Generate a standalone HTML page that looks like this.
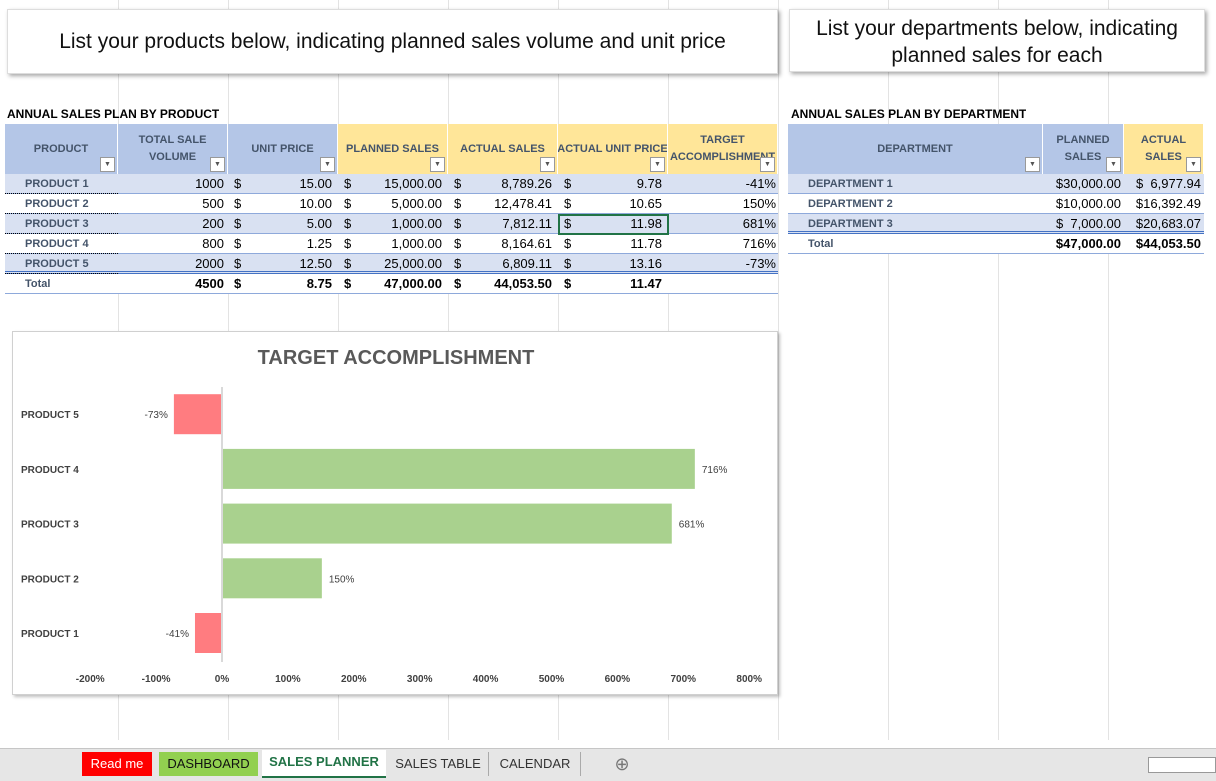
<!DOCTYPE html>
<html><head><meta charset="utf-8"><style>
body{margin:0;width:1216px;height:781px;position:relative;overflow:hidden;background:#fff;font-family:"Liberation Sans",sans-serif;}
.c{position:absolute;box-sizing:border-box;white-space:nowrap;overflow:hidden;}
.gl{position:absolute;top:0;height:740px;width:1px;background:#e3e3e3;}
.hbox{position:absolute;background:#fff;box-shadow:2px 2px 4px rgba(0,0,0,.35);border:1px solid #ddd;text-align:center;font-size:21px;color:#111;}
.tab{position:absolute;top:752px;height:24px;line-height:24px;font-size:13px;text-align:center;}
</style></head><body>
<div id="grid"></div>
<div class="hbox" style="left:7px;top:9px;width:769px;height:63px;line-height:63px;">List your products below, indicating planned sales volume and unit price</div>
<div class="hbox" style="left:789px;top:9px;width:416px;height:63px;line-height:27px;padding-top:5px;box-sizing:border-box;">List your departments below, indicating<br>planned sales for each</div>
<div class="c" style="left:7px;top:107px;font-size:12px;font-weight:bold;">ANNUAL SALES PLAN BY PRODUCT</div>
<div class="c" style="left:791px;top:107px;font-size:12px;font-weight:bold;">ANNUAL SALES PLAN BY DEPARTMENT</div>
<div id="tables"></div>
<div class="c" style="left:12px;top:331px;width:766px;height:364px;border:1px solid #d0d0d0;box-shadow:2px 2px 3px rgba(0,0,0,.25);background:#fff;">
<svg id="chart" width="766" height="364" style="position:absolute;left:0;top:0;font-family:'Liberation Sans',sans-serif;"></svg>
</div>
<div class="c" style="left:0;top:748px;width:1216px;height:33px;background:#e6e6e6;border-top:1px solid #c6c6c6;"></div>
<div class="tab" style="left:82px;width:70px;background:#ff0000;color:#fff;">Read me</div>
<div class="tab" style="left:159px;width:99px;background:#92d050;color:#111;">DASHBOARD</div>
<div class="tab" style="left:262px;width:124px;background:#fff;color:#217346;font-weight:bold;top:750px;height:26px;border-bottom:2px solid #217346;">SALES PLANNER</div>
<div class="tab" style="left:388px;width:100px;color:#333;border-right:1px solid #aaa;">SALES TABLE</div>
<div class="tab" style="left:490px;width:90px;color:#333;border-right:1px solid #aaa;">CALENDAR</div>
<div class="tab" style="left:612px;width:20px;color:#777;font-size:18px;">⊕</div>
<div class="c" style="left:1148px;top:757px;width:68px;height:16px;border:1px solid #999;background:#fff;"></div>
<script>
var gx=[118,228,338,448,558,668,778,888,998,1108];
var g=document.getElementById('grid');
gx.forEach(function(x){var d=document.createElement('div');d.className='gl';d.style.left=x+'px';


g.appendChild(d);});
var T=document.getElementById('tables');
function cell(x,y,w,h,txt,st,name){var d=document.createElement('div');d.className='c';
d.style.cssText='left:'+x+'px;top:'+y+'px;width:'+w+'px;height:'+h+'px;'+st;d.innerHTML=txt;


T.appendChild(d);return d;}
var blue='#b4c6e7',yel='#ffe699',band='#d9e1f2',hc='#44546a';
var dd='<span style="position:absolute;right:2px;bottom:2px;width:13px;height:13px;border:1px solid #999;background:#fff;font-size:7px;line-height:13px;text-align:center;color:#555">▼</span>';
var pcols=[[5,113,'PRODUCT',blue],[118,110,'TOTAL SALE<br>VOLUME',blue],[228,110,'UNIT PRICE',blue],[338,110,'PLANNED SALES',yel],[448,110,'ACTUAL SALES',yel],[558,110,'ACTUAL UNIT PRICE',yel],[668,110,'TARGET<br>ACCOMPLISHMENT',yel]];
pcols.forEach(function(c){cell(c[0],124,c[1]-1,50,'<div style="position:absolute;left:0;right:0;top:0;bottom:0;display:flex;align-items:center;justify-content:center;text-align:center;line-height:17px;">'+c[2]+'</div>'+dd,'background:'+c[3]+';font-size:11px;font-weight:bold;color:'+hc+';','header-'+c[2].toLowerCase().replace(/<br>/,' ').replace(/ /g,'-'));});
var names=['PRODUCT 1','PRODUCT 2','PRODUCT 3','PRODUCT 4','PRODUCT 5'];
var vol=['1000','500','200','800','2000'],up=['15.00','10.00','5.00','1.25','12.50'],ps=['15,000.00','5,000.00','1,000.00','1,000.00','25,000.00'],as=['8,789.26','12,478.41','7,812.11','8,164.61','6,809.11'],aup=['9.78','10.65','11.98','11.78','13.16'],ta=['-41%','150%','681%','716%','-73%'];
function money(x,y,v,bold,name){cell(x,y,110,20,'<span style="position:absolute;left:6px">$</span><span style="position:absolute;right:6px">'+v+'</span>','font-size:13px;line-height:20px;'+(bold?'font-weight:bold;':''),name);}
for(var i=0;i<6;i++){var y=174+i*20,tot=i==5;
 var bg=(!tot&&i%2==0)?band:'#fff';
 cell(5,y,773,20,'','background:'+bg+';border-bottom:'+(i==4?'3px double #4472c4':'1px solid #8ea9db')+';','row-bg');
 cell(5,y,113,20,tot?'Total':names[i],'font-size:11px;line-height:20px;padding-left:20px;color:'+hc+';font-weight:bold;'+(tot?'':'border-bottom:1px dotted #000;'),'row-label');
 cell(118,y,106,20,tot?'4500':vol[i],'font-size:13px;line-height:20px;text-align:right;'+(tot?'font-weight:bold;':''),'volume-cell');
 money(228,y,tot?'8.75':up[i],tot,'unit-price-cell');
 money(338,y,tot?'47,000.00':ps[i],tot,'planned-sales-cell');
 money(448,y,tot?'44,053.50':as[i],tot,'actual-sales-cell');
 money(558,y,tot?'11.47':aup[i],tot,'actual-unit-price-cell');
 cell(668,y,108,20,tot?'':ta[i],'font-size:13px;line-height:20px;text-align:right;','target-cell');}
cell(558,214,111,21,'','border:2px solid #217346;','selected-cell');
var dcols=[[788,255,'DEPARTMENT',blue],[1043,81,'PLANNED<br>SALES',blue],[1124,80,'ACTUAL<br>SALES',yel]];
dcols.forEach(function(c){cell(c[0],124,c[1]-1,50,'<div style="position:absolute;left:0;right:0;top:0;bottom:0;display:flex;align-items:center;justify-content:center;text-align:center;line-height:17px;">'+c[2]+'</div>'+dd,'background:'+c[3]+';font-size:11px;font-weight:bold;color:'+hc+';','dept-header');});
var dn=['DEPARTMENT 1','DEPARTMENT 2','DEPARTMENT 3','Total'],dp=['$30,000.00','$10,000.00','$&nbsp;&nbsp;7,000.00','$47,000.00'],da=['$&nbsp;&nbsp;6,977.94','$16,392.49','$20,683.07','$44,053.50'];
for(var j=0;j<4;j++){var y2=174+j*20,t2=j==3;
 cell(788,y2,416,20,'','background:'+((!t2&&j%2==0)?band:'#fff')+';border-bottom:'+(j==2?'3px double #4472c4':'1px solid #8ea9db')+';','dept-row-bg');
 cell(788,y2,255,20,dn[j],'font-size:11px;line-height:20px;padding-left:20px;color:'+hc+';font-weight:bold;','dept-label');
 cell(1043,y2,78,20,dp[j],'font-size:13px;line-height:20px;text-align:right;'+(t2?'font-weight:bold;':''),'dept-planned');
 cell(1124,y2,77,20,da[j],'font-size:13px;line-height:20px;text-align:right;'+(t2?'font-weight:bold;':''),'dept-actual');}
</script>
<script>
var categories=['PRODUCT 1','PRODUCT 2','PRODUCT 3','PRODUCT 4','PRODUCT 5'];
var values=[-41,150,681,716,-73];
var valueLabels=['-41%','150%','681%','716%','-73%'];
var ticks=[-200,-100,0,100,200,300,400,500,600,700,800];
var tickLabels=['-200%','-100%','0%','100%','200%','300%','400%','500%','600%','700%','800%'];
var svg=document.getElementById('chart'),NS='http://www.w3.org/2000/svg';
function xs(v){return 209+(v/100)*65.9;}
function ys(i){return 301-i*54.7;}
function mk(t,a){var e=document.createElementNS(NS,t);for(var k in a)e.setAttribute(k,a[k]);svg.appendChild(e);return e;}
var ti=mk('text',{x:383,y:32,'text-anchor':'middle','font-size':20,'font-weight':'bold',fill:'#595959'});ti.textContent='TARGET ACCOMPLISHMENT';


values.forEach(function(v,i){var x0=xs(0),x1=xs(v),y=ys(i);
 var r=mk('rect',{x:Math.min(x0,x1)+(v>0?1:0),y:y-20,width:Math.abs(x1-x0),height:40,fill:v<0?'#ff7c80':'#a9d18e'});
 
 
 var l=mk('text',{x:v<0?x1-6:x1+8,y:y+4,'text-anchor':v<0?'end':'start','font-size':10,fill:'#404040'});l.textContent=valueLabels[i];
 
 
 var c=mk('text',{x:8,y:y+4,'font-size':10,'font-weight':'bold',fill:'#404040'});c.textContent=categories[i];
 
 });
var ax=mk('line',{x1:xs(0),x2:xs(0),y1:55,y2:330,stroke:'#d9d9d9','stroke-width':2});


ticks.forEach(function(t,k){var e=mk('text',{x:xs(t),y:350,'text-anchor':'middle','font-size':10,'font-weight':'bold',fill:'#404040'});e.textContent=tickLabels[k];
 
 });
</script>
</body></html>
